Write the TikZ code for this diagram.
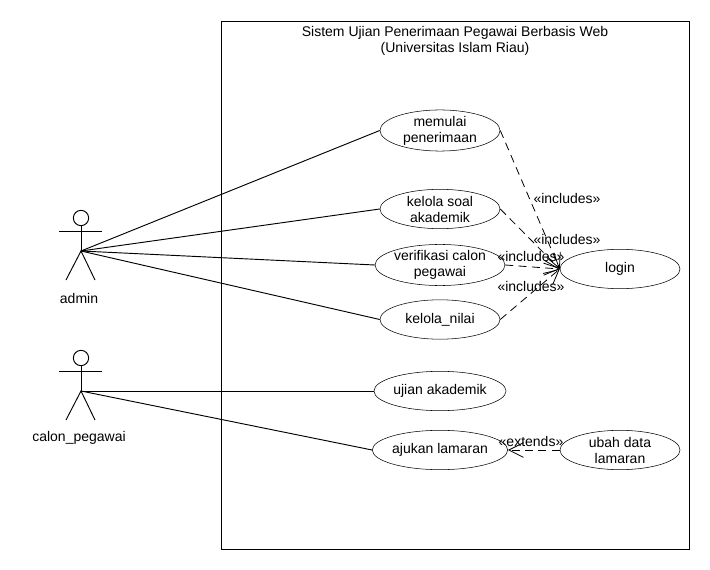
\documentclass[tikz,border=0pt]{standalone}
\usepackage{fontspec}
\setmainfont{Liberation Sans}
\usetikzlibrary{shapes.geometric,arrows.meta}
\tikzset{
  uc/.style={draw=black,ellipse,inner sep=0pt,minimum width=90pt,minimum height=29.5pt,align=center,font=\fontsize{10.5}{12}\selectfont},
  lbl/.style={inner sep=0pt,align=center,font=\fontsize{10.5}{12}\selectfont},
  assoc/.style={draw=black,line width=0.7pt},
  actorline/.style={draw=black,line width=0.7pt},
  dep/.style={draw=black,line width=0.6pt,dash pattern=on 6pt off 4pt,-{Straight Barb[length=11pt,width=11pt,line width=0.6pt]},shorten >=0pt},
}
\begin{document}
\begin{tikzpicture}[x=0.75pt,y=-0.75pt]
\useasboundingbox (0,0) rectangle (710,570);
\fill[white] (0,0) rectangle (710,570);
\node[draw=black,line width=0.7pt,minimum width=351pt,minimum height=396pt,inner sep=0pt,anchor=north west] (frame) at (221,21) {};
\node[lbl] (title) at (455,41) {Sistem Ujian Penerimaan Pegawai Berbasis Web\\(Universitas Islam Riau)};

\node[uc] (mulai) at (440,130.5) {memulai\\penerimaan};
\node[uc] (soal) at (440,209) {kelola soal\\akademik};
\node[uc] (verif) at (440,265) {verifikasi calon\\pegawai};
\node[uc] (nilai) at (440,319.5) {kelola\_nilai};
\node[uc] (ujian) at (440,391) {ujian akademik};
\node[uc] (ajukan) at (440,450) {ajukan lamaran};
\node[uc] (login) at (620,269) {login};
\node[uc] (ubah) at (620,450) {ubah data\\lamaran};

% admin actor
\coordinate (a) at (81,251);
\node[draw=black,circle,line width=0.7pt,minimum size=11.5pt,inner sep=0pt] (ahead) at (81,218) {};
\coordinate (aL) at (59,231);
\coordinate (aR) at (102,231);
\coordinate (aF1) at (66,280);
\coordinate (aF2) at (95,280);
\draw[actorline] (ahead.south) -- (a);
\draw[actorline] (aL) -- (aR);
\draw[actorline] (aF1) -- (a) -- (aF2);
\node[lbl] (admin) at (79,298) {admin};

% calon actor
\coordinate (c) at (81,391);
\node[draw=black,circle,line width=0.7pt,minimum size=11.5pt,inner sep=0pt] (chead) at (81,358) {};
\coordinate (cL) at (59,371);
\coordinate (cR) at (102,371);
\coordinate (cF1) at (66,420);
\coordinate (cF2) at (95,420);
\draw[actorline] (chead.south) -- (c);
\draw[actorline] (cL) -- (cR);
\draw[actorline] (cF1) -- (c) -- (cF2);
\node[lbl] (calon) at (79,438) {calon\_pegawai};

\draw[assoc] (a) -- (mulai.west);
\draw[assoc] (a) -- (soal.west);
\draw[assoc] (a) -- (verif.west);
\draw[assoc] (a) -- (nilai.west);
\draw[assoc] (c) -- (ujian.west);
\draw[assoc] (c) -- (ajukan.west);

\draw[dep] (mulai.east) -- (login.west);
\draw[dep] (soal.east) -- (login.west);
\draw[dep] (verif.east) -- (login.west);
\draw[dep] (nilai.east) -- (login.west);
\draw[dep] (ubah.west) -- (ajukan.east);

\node[lbl] (i1) at (567,198) {«includes»};
\node[lbl] (i2) at (567,239) {«includes»};
\node[lbl] (i3) at (531,256) {«includes»};
\node[lbl] (i4) at (531,286) {«includes»};
\node[lbl] (e1) at (531,441) {«extends»};
\end{tikzpicture}
\end{document}
